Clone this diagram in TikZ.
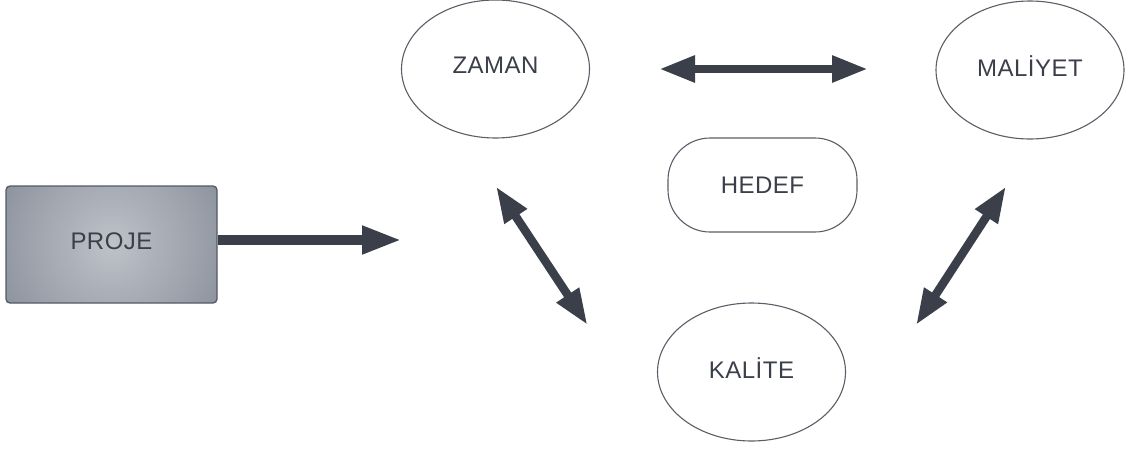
\documentclass[tikz,border=0pt]{standalone}
\usepackage{fontspec}
\setmainfont{Liberation Sans}[LetterSpace=2]
\usetikzlibrary{arrows.meta,shapes.geometric,calc}
\definecolor{ink}{RGB}{58,63,73}
\definecolor{rim}{RGB}{90,94,102}
\definecolor{boxrim}{RGB}{84,90,100}
\definecolor{shadein}{RGB}{190,194,201}
\definecolor{shadeout}{RGB}{106,113,126}
\begin{document}
\begin{tikzpicture}[x=1pt,y=-1pt,
  label text/.style={text=ink,font=\fontsize{24}{28}\selectfont},
  oval/.style={ellipse,draw=rim,line width=1.1pt,minimum width=188pt,
    minimum height=138pt,inner sep=0pt,text depth=8pt,label text},
  goal/.style={rectangle,rounded corners=42pt,draw=rim,line width=1.1pt,
    minimum width=189pt,minimum height=94pt,inner sep=0pt,label text},
  project/.style={rectangle,rounded corners=4pt,draw=boxrim,line width=1.3pt,
    path picture={\shade[inner color=shadein,outer color=shadeout]
      (path picture bounding box.center) circle (212pt);},
    minimum width=211pt,minimum height=117pt,inner sep=0pt,text depth=6pt,
    label text},
  onearrow/.style={draw=ink,line width=10pt,
    -{Triangle[length=40pt,width=26pt]}},
  twoarrow/.style={draw=ink,line width=8.5pt,
    {Triangle[length=36pt,width=25pt]}-{Triangle[length=36pt,width=25pt]}}]
\useasboundingbox (0,0) rectangle (1129,450);

% goal triangle of the project
\node[project] (proje) at (111.5,244.5) {PROJE};
\node[oval] (zaman) at (495.5,69) {ZAMAN};
\node[oval] (maliyet) at (1030,70) {MAL\.IYET};
\node[oval] (kalite) at (751.5,372) {KAL\.ITE};
\node[goal] (hedef) at (762.5,185) {HEDEF};

% arrow end points
\coordinate (projetip) at (402,240);
\coordinate (zmleft) at (659,69);
\coordinate (zmright) at (868,69);
\coordinate (zktop) at (496,186.5);
\coordinate (zkbot) at (587.5,325);
\coordinate (mktop) at (1006,186.5);
\coordinate (mkbot) at (916,325);

\draw[onearrow] (proje.east |- projetip) -- (projetip);
\draw[twoarrow] (zmleft) -- (zmright);
\draw[twoarrow] (zktop) -- (zkbot);
\draw[twoarrow] (mktop) -- (mkbot);
\end{tikzpicture}
\end{document}
